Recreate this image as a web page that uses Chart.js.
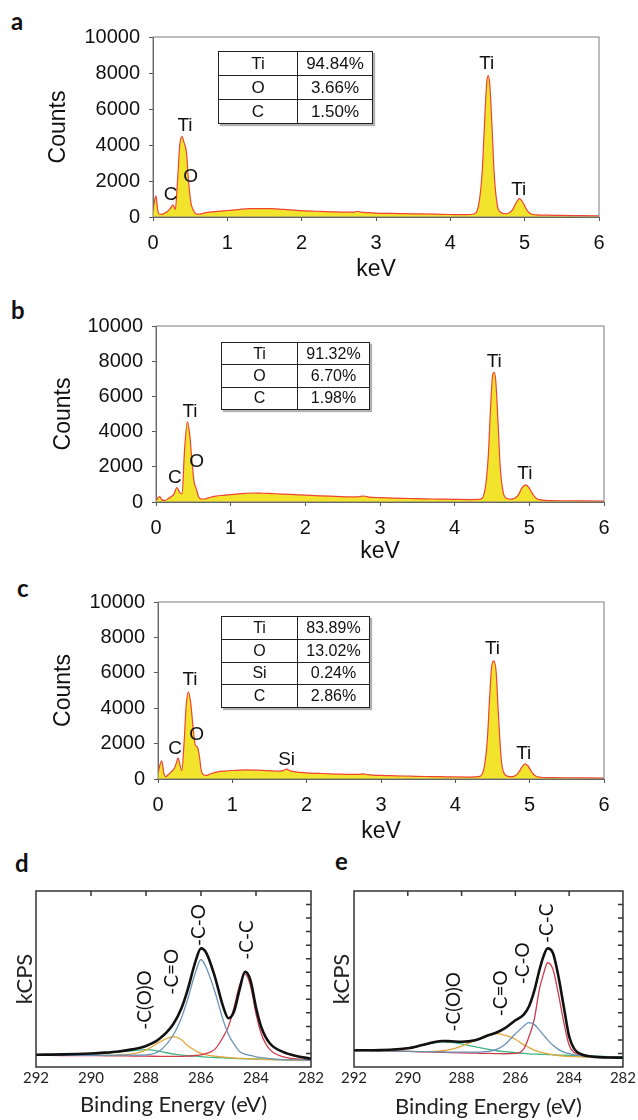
<!DOCTYPE html>
<html>
<head>
<meta charset="utf-8">
<script src="https://cdn.jsdelivr.net/npm/chart.js@4.4.1/dist/chart.umd.min.js"></script>
<style>
  body { margin: 0; background: #fff; }
  #page { position: relative; width: 638px; height: 1120px; overflow: hidden; }
  canvas { position: absolute; }
  .tag { position: absolute; font: bold 24px Lato, "Open Sans", sans-serif; color: #111; line-height: 1; }
  table.comp { position: absolute; border-collapse: collapse; color: #111;
    font-family: "Liberation Sans", Arial, sans-serif; box-shadow: 2px 2px 1px #b0b0b0; }
  table.comp td { border: 1.5px solid #222; text-align: center; padding: 0; }
</style>
</head>
<body>
<div id="page">
  <div class="tag" style="left:11px;top:9px">a</div>
  <div class="tag" style="left:11px;top:298px">b</div>
  <div class="tag" style="left:17px;top:576px">c</div>
  <div class="tag" style="left:15px;top:851px">d</div>
  <div class="tag" style="left:335px;top:849px">e</div>

  <canvas id="edsA" width="638" height="285" style="left:0;top:0"></canvas>
  <canvas id="edsB" width="638" height="285" style="left:0;top:290px"></canvas>
  <canvas id="edsC" width="638" height="285" style="left:0;top:575px"></canvas>
  <canvas id="xpsD" width="335" height="245" style="left:0;top:875px"></canvas>
  <canvas id="xpsE" width="319" height="245" style="left:319px;top:875px"></canvas>
</div>

<script>
// EDS spectra -- keV vs counts
const kevA = [0, 0.02, 0.04, 0.06, 0.08, 0.12, 0.16, 0.2, 0.24, 0.27, 0.3, 0.33, 0.36, 0.39, 0.42, 0.45, 0.48, 0.51, 0.54, 0.57,
  0.6, 0.65, 0.7, 0.8, 0.9, 1.0, 1.1, 1.2, 1.3, 1.4, 1.5, 1.6, 1.7, 1.8, 1.9, 2.0, 2.2, 2.4, 2.6, 2.7, 2.75, 2.8, 2.9,
  3.0, 3.2, 3.4, 3.6, 3.8, 4.0, 4.2, 4.33, 4.39, 4.43, 4.46, 4.49, 4.51, 4.53, 4.56, 4.59, 4.63, 4.68, 4.74, 4.79, 4.84,
  4.88, 4.93, 4.98, 5.03, 5.08, 5.15, 5.3, 5.5, 5.75, 6.0];
const cntA = [350, 900, 1180, 500, 170, 150, 220, 330, 520, 680, 420, 2000, 4000, 4460, 4100, 3600, 1900, 800, 400, 200,
  150, 170, 230, 290, 330, 360, 400, 440, 460, 470, 470, 460, 440, 410, 380, 350, 320, 290, 270, 270, 320, 270, 240,
  220, 200, 185, 170, 155, 140, 130, 180, 900, 2600, 5200, 7500, 7850, 7400, 5100, 2400, 700, 250, 180, 220, 420,
  760, 1020, 780, 380, 180, 120, 100, 90, 75, 60];

const kevB = [0, 0.02, 0.05, 0.08, 0.12, 0.16, 0.2, 0.24, 0.28, 0.32, 0.35, 0.38, 0.42, 0.45, 0.48, 0.51, 0.54, 0.57,
  0.6, 0.65, 0.7, 0.8, 0.9, 1.0, 1.1, 1.2, 1.3, 1.4, 1.5, 1.6, 1.7, 1.8, 1.9, 2.0, 2.2, 2.4, 2.6, 2.7, 2.78, 2.85,
  3.0, 3.2, 3.4, 3.6, 3.8, 4.0, 4.2, 4.35, 4.41, 4.45, 4.48, 4.51, 4.53, 4.55, 4.58, 4.61, 4.65, 4.7, 4.76, 4.81, 4.86,
  4.9, 4.95, 5.0, 5.05, 5.1, 5.17, 5.3, 5.5, 5.75, 6.0];
const cntB = [100, 200, 300, 120, 90, 180, 300, 450, 820, 520, 480, 2800, 4560, 3900, 2400, 1150, 750, 300,
  180, 170, 230, 330, 380, 420, 460, 490, 510, 500, 490, 470, 450, 430, 410, 390, 350, 320, 290, 290, 340, 280,
  250, 220, 200, 180, 165, 150, 140, 160, 800, 2600, 5300, 7250, 7370, 6900, 4600, 2000, 550, 200, 160, 230, 450,
  800, 970, 780, 420, 180, 110, 80, 70, 60, 50];

const kevC = [0, 0.02, 0.05, 0.08, 0.1, 0.14, 0.18, 0.22, 0.25, 0.27, 0.29, 0.32, 0.35, 0.38, 0.41, 0.44, 0.47, 0.5,
  0.53, 0.56, 0.58, 0.61, 0.65, 0.7, 0.8, 0.9, 1.0, 1.1, 1.2, 1.3, 1.4, 1.5, 1.6, 1.68, 1.73, 1.78, 1.85, 2.0, 2.2,
  2.4, 2.6, 2.7, 2.76, 2.82, 3.0, 3.2, 3.4, 3.6, 3.8, 4.0, 4.2, 4.33, 4.39, 4.43, 4.46, 4.49, 4.52, 4.55, 4.58, 4.62,
  4.66, 4.71, 4.76, 4.81, 4.86, 4.9, 4.94, 4.98, 5.03, 5.08, 5.15, 5.3, 5.5, 5.75, 6.0];
const cntC = [320, 700, 1030, 300, 130, 250, 420, 600, 950, 1200, 900, 470, 2000, 4200, 4930, 4300, 3000, 1950,
  1800, 1200, 500, 250, 200, 280, 400, 450, 480, 500, 510, 500, 490, 470, 440, 470, 560, 460, 400, 350, 310,
  280, 260, 260, 290, 250, 200, 180, 160, 140, 130, 115, 110, 150, 700, 2200, 4500, 6400, 6670, 6000, 3600, 1000,
  300, 150, 130, 200, 420, 700, 850, 720, 380, 170, 100, 80, 70, 60, 50];

// peak labels: [text, keV, counts] at label centre
const peaksA = [['C', 0.238, 1220], ['Ti', 0.43, 5070], ['O', 0.507, 2240], ['Ti', 4.49, 8540], ['Ti', 4.92, 1540]];
const peaksB = [['C', 0.254, 1350], ['Ti', 0.455, 5130], ['O', 0.545, 2290], ['Ti', 4.53, 7970], ['Ti', 4.94, 1630]];
const peaksC = [['C', 0.229, 1680], ['Ti', 0.43, 5590], ['O', 0.52, 2490], ['Si', 1.73, 1110], ['Ti', 4.5, 7380], ['Ti', 4.92, 1450]];

// composition tables
const tableA = [['Ti', '94.84%'], ['O', '3.66%'], ['C', '1.50%']];
const tableB = [['Ti', '91.32%'], ['O', '6.70%'], ['C', '1.98%']];
const tableC = [['Ti', '83.89%'], ['O', '13.02%'], ['Si', '0.24%'], ['C', '2.86%']];

// XPS C1s -- binding energy (eV) vs kCPS (arbitrary units, 0..13)
const evD = [292, 291, 290, 289.5, 289, 288.5, 288, 287.5, 287, 286.7, 286.5, 286.2, 286.0, 285.8, 285.5, 285.2,
  285.0, 284.8, 284.6, 284.4, 284.2, 284.0, 283.8, 283.5, 283.0, 282.5, 282];
const totalD = [0.91, 0.93, 1.0, 1.06, 1.15, 1.3, 1.55, 2.1, 3.2, 4.4, 5.6, 7.8, 8.76, 8.4, 6.7, 4.5,
  3.6, 4.1, 5.7, 7.03, 6.4, 4.4, 2.9, 1.75, 1.1, 0.8, 0.62];
const coD = [0.86, 0.86, 0.86, 0.86, 0.87, 0.88, 0.9, 1.2, 2.4, 3.7, 4.9, 7.0, 7.94, 7.3, 5.6, 3.5,
  2.4, 1.7, 1.15, 0.95, 0.85, 0.75, 0.7, 0.62, 0.55, 0.52, 0.5];
const ccD = [0.86, 0.85, 0.84, 0.83, 0.82, 0.81, 0.8, 0.79, 0.78, 0.79, 0.8, 0.85, 0.9, 1.0, 1.3, 2.2,
  3.0, 4.4, 6.0, 6.86, 6.0, 3.95, 2.4, 1.3, 0.75, 0.6, 0.54];
const cdoD = [0.86, 0.86, 0.86, 0.87, 0.9, 0.97, 1.25, 1.85, 2.25, 2.0, 1.6, 1.2, 1.0, 0.9, 0.8, 0.74,
  0.7, 0.67, 0.64, 0.62, 0.6, 0.59, 0.57, 0.55, 0.52, 0.5, 0.49];
const cooD = [0.86, 0.88, 0.95, 1.02, 1.1, 1.2, 1.28, 1.15, 0.95, 0.88, 0.84, 0.8, 0.76, 0.73, 0.7, 0.67,
  0.65, 0.63, 0.62, 0.61, 0.6, 0.59, 0.58, 0.56, 0.53, 0.51, 0.49];

const evE = [292, 291, 290, 289.5, 289, 288.7, 288.4, 288, 287.5, 287, 286.7, 286.4, 286, 285.7, 285.5, 285.3,
  285.1, 284.95, 284.8, 284.6, 284.4, 284.2, 284.0, 283.8, 283.5, 283, 282.5, 282];
const totalE = [1.23, 1.25, 1.38, 1.6, 1.85, 1.92, 1.9, 1.87, 1.98, 2.35, 2.55, 2.85, 3.45, 3.85, 4.45, 5.6,
  7.2, 8.2, 8.76, 8.4, 6.7, 4.45, 2.25, 1.3, 0.9, 0.75, 0.7, 0.69];
const coE = [1.23, 1.2, 1.16, 1.14, 1.12, 1.11, 1.1, 1.1, 1.1, 1.15, 1.3, 1.65, 2.45, 3.0, 3.28, 3.15,
  2.7, 2.35, 2.0, 1.6, 1.3, 1.1, 0.98, 0.9, 0.82, 0.75, 0.71, 0.69];
const ccE = [1.23, 1.2, 1.15, 1.12, 1.1, 1.08, 1.06, 1.04, 1.02, 1.0, 0.99, 0.98, 1.0, 1.3, 2.2, 3.5,
  5.8, 6.9, 7.7, 7.2, 5.4, 3.3, 1.6, 1.05, 0.85, 0.74, 0.7, 0.69];
const cdoE = [1.23, 1.2, 1.16, 1.14, 1.15, 1.2, 1.3, 1.55, 1.95, 2.35, 2.47, 2.35, 2.05, 1.65, 1.45, 1.25,
  1.12, 1.05, 0.98, 0.9, 0.85, 0.81, 0.78, 0.76, 0.74, 0.71, 0.7, 0.69];
const cooE = [1.23, 1.25, 1.4, 1.58, 1.78, 1.85, 1.82, 1.7, 1.5, 1.3, 1.2, 1.13, 1.06, 1.0, 0.97, 0.95,
  0.94, 0.93, 0.92, 0.9, 0.88, 0.87, 0.86, 0.84, 0.82, 0.79, 0.76, 0.74];

// bond labels: [text, eV, value] at label centre (rotated)
const bondsD = [['-C(O)O', 288.04, 4.95], ['-C=O', 287.07, 7.04], ['-C-O', 286.07, 10.49], ['-C-C', 284.34, 9.38]];
const bondsE = [['-C(O)O', 288.28, 4.82], ['-C=O', 286.53, 5.44], ['-C-O', 285.73, 7.66], ['-C-C', 284.84, 10.61]];

const edsFont = '"Liberation Sans", Arial, sans-serif';
const xpsFont = 'Lato, "Open Sans", sans-serif';

// --- Plugins ---

// box around the plot area, optional inward ticks on top / right
function framePlugin(color, width, topTicks, rightTicks) {
  return {
    id: 'frame',
    afterDraw(chart) {
      const { ctx, chartArea: a } = chart;
      ctx.save();
      ctx.strokeStyle = color;
      ctx.lineWidth = width;
      ctx.strokeRect(a.left, a.top, a.right - a.left, a.bottom - a.top);
      ctx.beginPath();
      for (const v of topTicks || []) {
        const px = chart.scales.x.getPixelForValue(v);
        ctx.moveTo(px, a.top);
        ctx.lineTo(px, a.top + 5);
      }
      for (const v of rightTicks || []) {
        const py = chart.scales.y.getPixelForValue(v);
        ctx.moveTo(a.right, py);
        ctx.lineTo(a.right - 5, py);
      }
      ctx.stroke();
      ctx.restore();
    },
  };
}

// text labels placed in data coordinates
function labelPlugin(items, font, rotate) {
  return {
    id: 'marks',
    afterDatasetsDraw(chart) {
      const { ctx } = chart;
      ctx.save();
      ctx.font = font;
      ctx.fillStyle = '#111';
      ctx.textAlign = 'center';
      ctx.textBaseline = 'middle';
      for (const [text, x, y] of items) {
        const px = chart.scales.x.getPixelForValue(x);
        const py = chart.scales.y.getPixelForValue(y);
        ctx.save();
        ctx.translate(px, py);
        if (rotate) ctx.rotate(-Math.PI / 2);
        ctx.fillText(text, 0, 0);
        ctx.restore();
      }
      ctx.restore();
    },
  };
}

// --- Builders ---

function edsChart(id, kev, counts, peaks, box) {
  return new Chart(document.getElementById(id), {
    type: 'line',
    data: {
      datasets: [{
        data: kev.map((x, i) => ({ x, y: counts[i] })),
        borderColor: '#ef4336',
        backgroundColor: '#f2e42c',
        borderWidth: 1.2,
        pointRadius: 0,
        fill: 'origin',
        cubicInterpolationMode: 'monotone',
      }],
    },
    options: {
      responsive: false,
      animation: false,
      layout: { padding: { left: 0, top: box.top, right: box.right, bottom: 0 } },
      plugins: { legend: { display: false }, tooltip: { enabled: false } },
      scales: {
        x: {
          type: 'linear', min: 0, max: 6,
          ticks: { stepSize: 1, color: '#111', padding: 10, maxRotation: 0,
            font: { family: edsFont, size: 20 }, callback: v => String(v) },
          grid: { drawOnChartArea: false, tickLength: 4, color: '#555' },
          border: { color: '#555' },
          title: { display: true, text: 'keV', color: '#111', font: { family: edsFont, size: 23 },
            padding: { top: 0, bottom: box.keVPad } },
          afterFit(s) { s.height = box.bottom; },
        },
        y: {
          min: 0, max: 10000,
          ticks: { stepSize: 2000, color: '#111', padding: 9,
            font: { family: edsFont, size: 20 }, callback: v => String(v) },
          grid: { drawOnChartArea: false, tickLength: 4, color: '#555' },
          border: { color: '#555' },
          title: { display: true, text: 'Counts', color: '#111', font: { family: edsFont, size: 23 },
            padding: { top: box.countsPad, bottom: 0 } },
          afterFit(s) { s.width = box.left; },
        },
      },
    },
    plugins: [framePlugin('#7d7d7d', 1), labelPlugin(peaks, '19px ' + edsFont, false)],
  });
}

function xpsChart(id, ev, series, bonds, box) {
  const colors = ['#111111', '#6a92b8', '#cc3d48', '#e2a63a', '#41b585'];
  return new Chart(document.getElementById(id), {
    type: 'line',
    data: {
      datasets: series.map((s, k) => ({
        data: ev.map((x, i) => ({ x, y: s[i] })),
        borderColor: colors[k],
        borderWidth: k === 0 ? 2.6 : 1.3,
        pointRadius: 0,
        fill: false,
        cubicInterpolationMode: 'monotone',
      })),
    },
    options: {
      responsive: false,
      animation: false,
      layout: { padding: { left: 0, top: box.top, right: box.right, bottom: 0 } },
      plugins: { legend: { display: false }, tooltip: { enabled: false } },
      scales: {
        x: {
          type: 'linear', min: 282, max: 292, reverse: true,
          ticks: { stepSize: 2, color: '#222', padding: 2, maxRotation: 0,
            font: { family: xpsFont, size: 15 }, callback: v => String(v) },
          grid: { display: false, drawTicks: false },
          border: { display: false },
          title: { display: true, text: 'Binding Energy (eV)', color: '#222', font: { family: xpsFont, size: 22 },
            padding: { top: 0, bottom: box.titlePad } },
          afterFit(s) { s.height = box.bottom; },
        },
        y: {
          min: 0, max: 13,
          ticks: { display: false },
          grid: { display: false, drawTicks: false },
          border: { display: false },
          title: { display: true, text: 'kCPS', color: '#222', font: { family: xpsFont, size: 22 },
            padding: { top: box.kcpsPad, bottom: 0 } },
          afterFit(s) { s.width = box.left; },
        },
      },
    },
    plugins: [
      framePlugin('#333', 1.5, [290, 288, 286, 284], [1, 2, 3, 4, 5, 6, 7, 8, 9, 10, 11, 12]),
      labelPlugin(bonds, '19px ' + xpsFont, true),
    ],
  });
}

function placeTable(rows, left, top, width, rowH, col1, fontSize) {
  const t = document.createElement('table');
  t.className = 'comp';
  t.style.left = left + 'px';
  t.style.top = top + 'px';
  t.style.width = width + 'px';
  t.style.fontSize = fontSize + 'px';
  for (const [el, pct] of rows) {
    const tr = document.createElement('tr');
    tr.style.height = rowH + 'px';
    const a = document.createElement('td');
    a.style.width = col1 + 'px';
    a.textContent = el;
    const b = document.createElement('td');
    b.textContent = pct;
    tr.appendChild(a);
    tr.appendChild(b);
    t.appendChild(tr);
  }
  document.getElementById('page').appendChild(t);
}

edsChart('edsA', kevA, cntA, peaksA, { left: 153, right: 39, top: 37, bottom: 68, keVPad: 2, countsPad: 45 });
edsChart('edsB', kevB, cntB, peaksB, { left: 156, right: 34, top: 36, bottom: 73, keVPad: 10, countsPad: 50 });
edsChart('edsC', kevC, cntC, peaksC, { left: 158, right: 34, top: 27, bottom: 81, keVPad: 15, countsPad: 50 });

xpsChart('xpsD', evD, [totalD, coD, ccD, cdoD, cooD], bondsD, { left: 36, right: 24, top: 16, bottom: 53, titlePad: 2, kcpsPad: 12 });
xpsChart('xpsE', evE, [totalE, coE, ccE, cdoE, cooE], bondsE, { left: 35, right: 13, top: 16, bottom: 53, titlePad: 0, kcpsPad: 10 });

placeTable(tableA, 218, 51, 155, 24, 78, 17);
placeTable(tableB, 221, 342, 149, 22.3, 75, 16);
placeTable(tableC, 221, 616, 149, 22.8, 75, 16);
</script>
</body>
</html>
